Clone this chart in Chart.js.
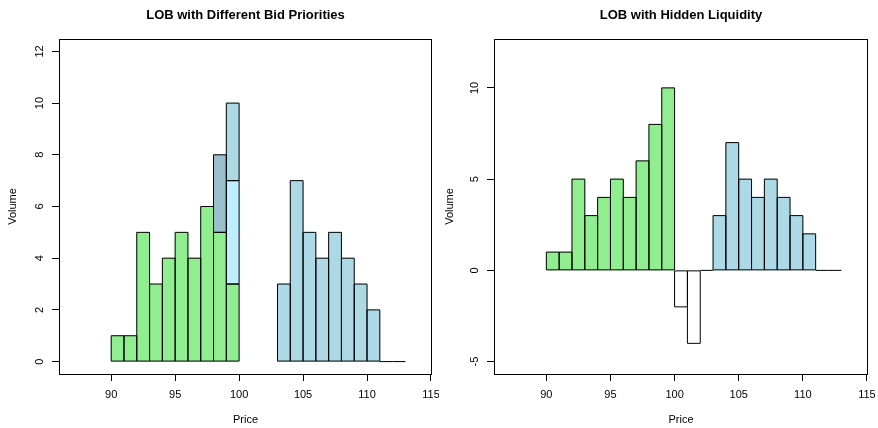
<!DOCTYPE html>
<html>
<head>
<meta charset="utf-8">
<script src="https://cdn.jsdelivr.net/npm/chart.js@4.4.1/dist/chart.umd.min.js"></script>
<style>
  html, body { margin: 0; padding: 0; background: #fff; }
  #wrap { position: relative; width: 878px; height: 428px; }
  canvas { position: absolute; top: 0; }
  #lobPriorities { left: 0; }
  #lobHidden { left: 439px; }
</style>
</head>
<body>
<div id="wrap">
  <canvas id="lobPriorities" width="439" height="428"></canvas>
  <canvas id="lobHidden" width="439" height="428"></canvas>
</div>
<script>
// Each price level occupies the unit interval [price, price + 1).
const bidPrices = [90, 91, 92, 93, 94, 95, 96, 97, 98, 99];
const askPrices = [103, 104, 105, 106, 107, 108, 109, 110, 111, 112];
const askVolumes = [3, 7, 5, 4, 5, 4, 3, 2, 0, 0];

// Bid queue split by priority
const firstPriorityVolumes = [1, 1, 5, 3, 4, 5, 4, 6, 5, 3];
const secondPriorityPrices = [98];
const secondPriorityVolumes = [3];
const thirdPriorityPrices = [99];
const thirdPriorityVolumes = [4];
const fourthPriorityPrices = [99];
const fourthPriorityVolumes = [3];

// Displayed bids and hidden orders (hidden volume shown below zero)
const displayedBidVolumes = [1, 1, 5, 3, 4, 5, 4, 6, 8, 10];
const hiddenPrices = [100, 101, 102];
const hiddenVolumes = [-2, -4, 0];

// Axis limits and tick labels
const priceLimits = [87, 114];
const priorityVolumeLimits = [0, 12];
const hiddenVolumeLimits = [-5, 12];
const priceTicks = [90, 95, 100, 105, 110, 115];
const priorityVolumeTicks = [0, 2, 4, 6, 8, 10, 12];
const hiddenVolumeTicks = [-5, 0, 5, 10];

const COLORS = {
  bid: '#90EE90',
  ask: '#ADD8E6',
  second: '#9AC0CD',
  third: '#BFEFFF',
  fourth: '#ADD8E6',
  hidden: '#FFFFFF'
};

const FONT = '"Liberation Sans", Arial, Helvetica, sans-serif';
Chart.defaults.font.family = FONT;
Chart.defaults.color = '#000';

// Pad a range by 4% on each side
function padded([lo, hi]) {
  const d = (hi - lo) * 0.04;
  return [lo - d, hi + d];
}

function levels(prices, volumes) {
  return prices.map((p, i) => ({ x: p + 0.5, y: volumes[i] }));
}

function barSet(label, prices, volumes, color) {
  return {
    label,
    data: levels(prices, volumes),
    backgroundColor: color,
    borderWidth: 0,
    barPercentage: 1,
    categoryPercentage: 1
  };
}

// Thin black outline around every bar (a flat line for empty levels)
const barOutline = {
  id: 'barOutline',
  afterDatasetsDraw(chart) {
    const ctx = chart.ctx;
    ctx.save();
    ctx.strokeStyle = '#000';
    ctx.lineWidth = 1;
    chart.data.datasets.forEach((ds, di) => {
      chart.getDatasetMeta(di).data.forEach(bar => {
        const { x, y, base, width } = bar.getProps(['x', 'y', 'base', 'width'], true);
        const l = x - width / 2;
        ctx.beginPath();
        if (Math.abs(y - base) < 0.01) {
          ctx.moveTo(l, y);
          ctx.lineTo(l + width, y);
        } else {
          ctx.rect(l, Math.min(y, base), width, Math.abs(base - y));
        }
        ctx.stroke();
      });
    });
    ctx.restore();
  }
};

// Frame around the plotting region
const plotFrame = {
  id: 'plotFrame',
  afterDraw(chart) {
    const { left, top, right, bottom } = chart.chartArea;
    const ctx = chart.ctx;
    ctx.save();
    ctx.strokeStyle = '#000';
    ctx.lineWidth = 1;
    ctx.strokeRect(left + 0.5, top + 0.5, right - left - 1, bottom - top);
    ctx.restore();
  }
};

function makeChart(id, title, datasets, yLimits, yTicks, geom) {
  const [xMin, xMax] = padded(priceLimits);
  const [yMin, yMax] = padded(yLimits);
  return new Chart(document.getElementById(id), {
    type: 'bar',
    data: { datasets },
    options: {
      responsive: false,
      animation: false,
      devicePixelRatio: 1,
      events: [],
      layout: { padding: { left: 0, right: geom.padRight, top: 0, bottom: 0 } },
      plugins: {
        legend: { display: false },
        tooltip: { enabled: false },
        title: {
          display: true,
          text: title,
          fullSize: false,
          color: '#000',
          font: { family: FONT, size: 13, weight: 'bold' },
          padding: { top: 7.5, bottom: 15.9 }
        }
      },
      scales: {
        x: {
          type: 'linear',
          stacked: true,
          offset: false,
          min: xMin,
          max: xMax,
          afterBuildTicks: s => { s.ticks = priceTicks.map(v => ({ value: v })); },
          afterFit: s => { s.height = 54; s.paddingLeft = 0; s.paddingRight = 0; },
          border: { display: false },
          grid: { display: true, offset: false, drawOnChartArea: false, drawTicks: true, tickLength: 7, color: '#000', tickColor: '#000' },
          ticks: { font: { size: 11 }, color: '#000', padding: 7.5, maxRotation: 0, autoSkip: false },
          title: { display: true, text: 'Price', font: { size: 11 }, color: '#000', padding: { top: 0, bottom: 1.4 } }
        },
        y: {
          type: 'linear',
          stacked: true,
          min: yMin,
          max: yMax,
          afterBuildTicks: s => { s.ticks = yTicks.map(v => ({ value: v })); },
          afterFit: s => { s.width = geom.axisWidth; s.paddingTop = 0; s.paddingBottom = 0; },
          border: { display: false },
          grid: { display: true, drawOnChartArea: false, drawTicks: true, tickLength: 7, color: '#000', tickColor: '#000' },
          ticks: { font: { size: 11 }, color: '#000', padding: geom.labelPad, minRotation: 90, maxRotation: 90, crossAlign: 'center', autoSkip: false },
          title: { display: true, text: 'Volume', font: { size: 11 }, color: '#000', padding: { top: geom.titlePad, bottom: 0 } }
        }
      }
    },
    plugins: [barOutline, plotFrame]
  });
}

makeChart('lobPriorities', 'LOB with Different Bid Priorities', [
  barSet('Priority 1', bidPrices, firstPriorityVolumes, COLORS.bid),
  barSet('Priority 2', secondPriorityPrices, secondPriorityVolumes, COLORS.second),
  barSet('Priority 3', thirdPriorityPrices, thirdPriorityVolumes, COLORS.third),
  barSet('Priority 4', fourthPriorityPrices, fourthPriorityVolumes, COLORS.fourth),
  barSet('Asks', askPrices, askVolumes, COLORS.ask)
], priorityVolumeLimits, priorityVolumeTicks, { axisWidth: 59, padRight: 7, labelPad: 5.5, titlePad: 6.5 });

makeChart('lobHidden', 'LOB with Hidden Liquidity', [
  barSet('Bids', bidPrices, displayedBidVolumes, COLORS.bid),
  barSet('Hidden', hiddenPrices, hiddenVolumes, COLORS.hidden),
  barSet('Asks', askPrices, askVolumes, COLORS.ask)
], hiddenVolumeLimits, hiddenVolumeTicks, { axisWidth: 55, padRight: 10, labelPad: 5.5, titlePad: 4.4 });
</script>
</body>
</html>
